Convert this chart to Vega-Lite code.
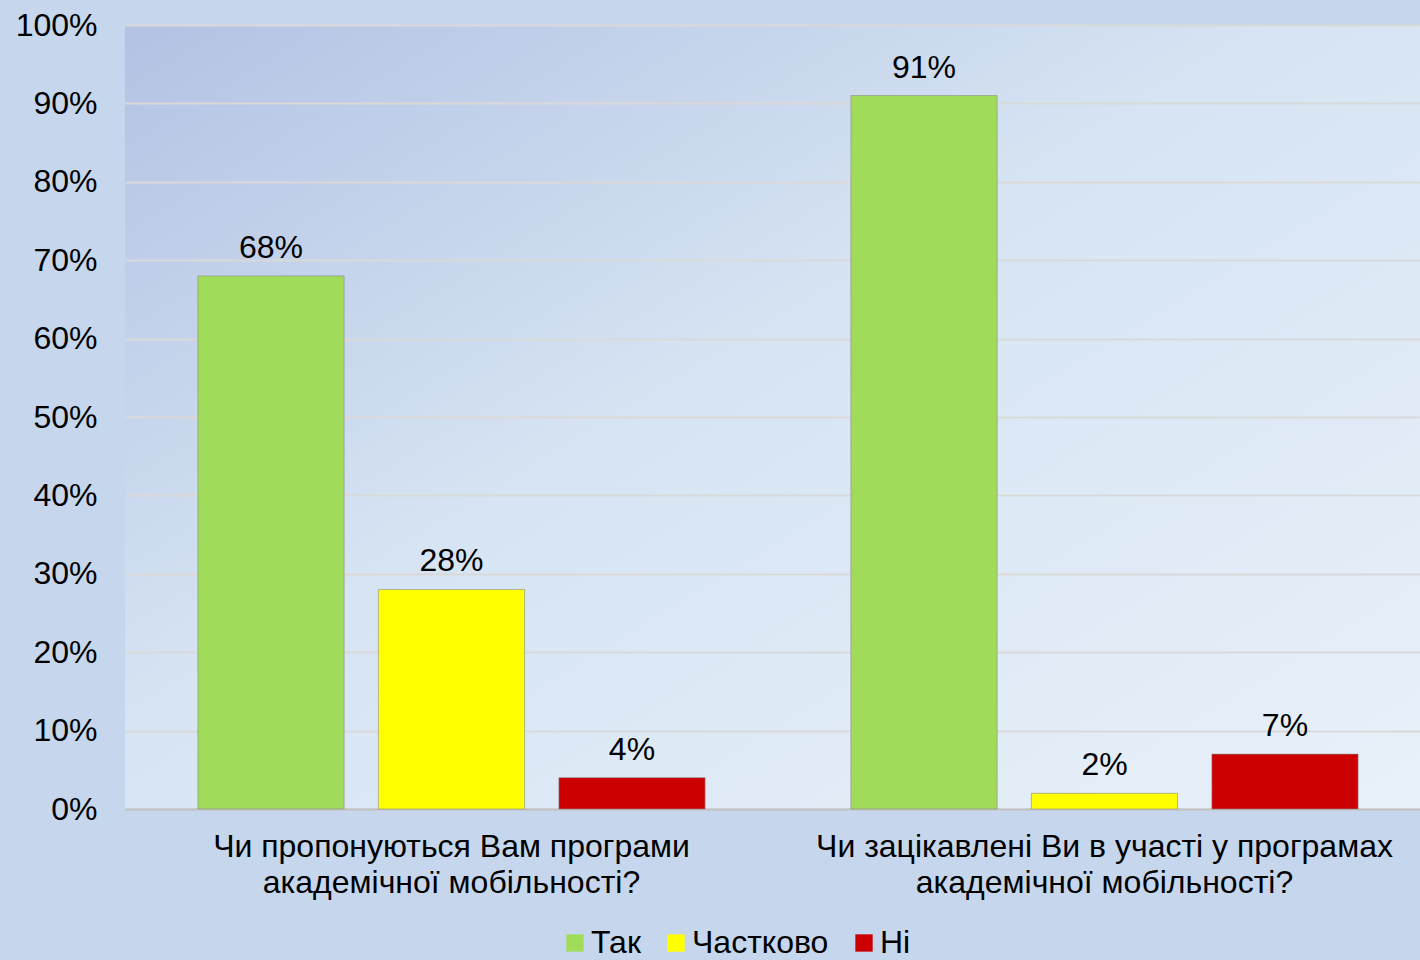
{
  "$schema": "https://vega.github.io/schema/vega-lite/v6.json",
  "width": 1295,
  "height": 784,
  "autosize": "none",
  "padding": {"left": 125, "top": 25, "right": 0, "bottom": 151},
  "background": "#c6d7ed",
  "config": {
    "font": "Liberation Sans",
    "view": {
      "stroke": null,
      "fill": {
        "gradient": "linear",
        "x1": 0, "y1": 0, "x2": 1, "y2": 1,
        "stops": [
          {"offset": 0, "color": "#b3c2e3"},
          {"offset": 0.45, "color": "#d6e4f3"},
          {"offset": 1, "color": "#e9f1fa"}
        ]
      }
    }
  },
  "data": {
    "values": [
      {"question": "Чи пропонуються Вам програми|академічної мобільності?", "answer": "Так", "value": 0.68},
      {"question": "Чи пропонуються Вам програми|академічної мобільності?", "answer": "Частково", "value": 0.28},
      {"question": "Чи пропонуються Вам програми|академічної мобільності?", "answer": "Ні", "value": 0.04},
      {"question": "Чи зацікавлені Ви в участі у програмах|академічної мобільності?", "answer": "Так", "value": 0.91},
      {"question": "Чи зацікавлені Ви в участі у програмах|академічної мобільності?", "answer": "Частково", "value": 0.02},
      {"question": "Чи зацікавлені Ви в участі у програмах|академічної мобільності?", "answer": "Ні", "value": 0.07}
    ]
  },
  "encoding": {
    "x": {
      "field": "question",
      "type": "nominal",
      "sort": null,
      "scale": {"paddingInner": 0, "paddingOuter": 0, "range": [0, 1306]},
      "axis": {
        "title": null,
        "labelAngle": 0,
        "labelExpr": "split(datum.label, '|')",
        "labelFontSize": 32,
        "labelLineHeight": 36,
        "labelColor": "#000000",
        "labelPadding": 22,
        "labelLimit": 700,
        "ticks": false,
        "domain": true,
        "domainColor": "#bfbfbf",
        "domainWidth": 2
      }
    },
    "xOffset": {
      "field": "answer",
      "type": "nominal",
      "sort": ["Так", "Частково", "Ні"],
      "scale": {"paddingInner": 0.19, "paddingOuter": 0.404}
    },
    "y": {
      "field": "value",
      "type": "quantitative",
      "scale": {"domain": [0, 1], "nice": false},
      "axis": {
        "title": null,
        "values": [0, 0.1, 0.2, 0.3, 0.4, 0.5, 0.6, 0.7, 0.8, 0.9, 1],
        "format": ".0%",
        "labelFontSize": 32,
        "labelColor": "#000000",
        "labelPadding": 28,
        "ticks": false,
        "domain": false,
        "grid": true,
        "gridColor": "#d9d9d9",
        "gridWidth": 2
      }
    }
  },
  "layer": [
    {
      "mark": {"type": "bar", "stroke": "#8a8a8a", "strokeWidth": 0.6},
      "encoding": {
        "color": {
          "field": "answer",
          "type": "nominal",
          "sort": ["Так", "Частково", "Ні"],
          "scale": {"domain": ["Так", "Частково", "Ні"], "range": ["#a0dc5a", "#ffff00", "#cc0000"]},
          "legend": {
            "title": null,
            "orient": "none",
            "direction": "horizontal",
            "legendX": 434,
            "legendY": 902,
            "symbolType": "square",
            "symbolSize": 300,
            "symbolStrokeWidth": 0,
            "labelFontSize": 32,
            "labelColor": "#000000",
            "labelOffset": 0,
            "columnPadding": 19
          }
        }
      }
    },
    {
      "mark": {"type": "text", "baseline": "alphabetic", "dy": -18, "fontSize": 32, "color": "#000000"},
      "encoding": {
        "text": {"field": "value", "type": "quantitative", "format": ".0%"}
      }
    }
  ]
}
